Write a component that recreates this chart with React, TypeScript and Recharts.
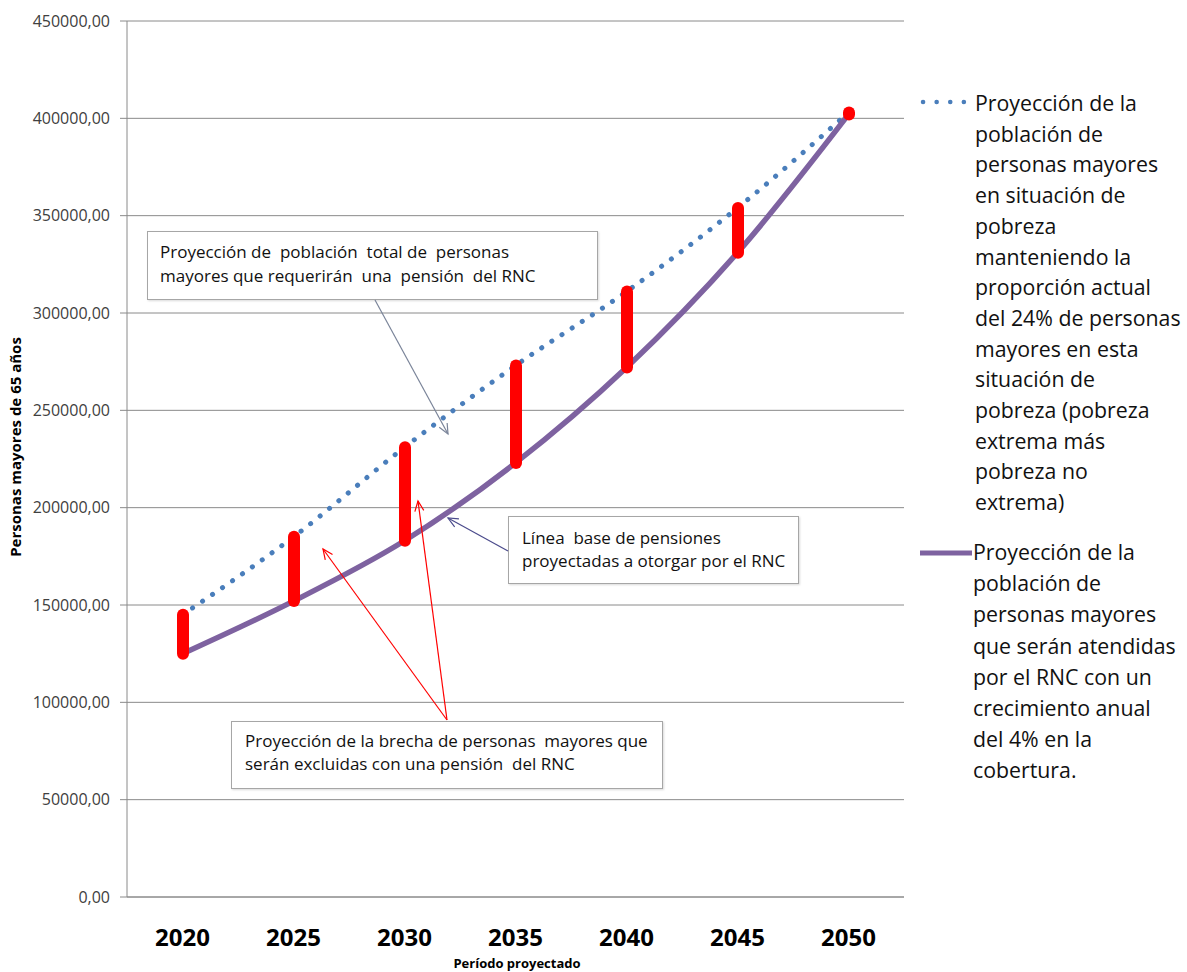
import { Bar, CartesianGrid, ComposedChart, Line, XAxis, YAxis } from 'recharts';

const years = ['2020', '2025', '2030', '2035', '2040', '2045', '2050'];
// proyección de personas mayores en situación de pobreza (24%)
const pobreza = [145000, 185000, 231000, 273000, 311000, 354000, 403000];
// proyección de personas mayores atendidas por el RNC (4% anual)
const atendidas = [125000, 152000, 183000, 223000, 272000, 331000, 402000];
const yTicks = [0, 50000, 100000, 150000, 200000, 250000, 300000, 350000, 400000, 450000];

const legendPobreza = [
  'Proyección de la',
  'población de',
  'personas mayores',
  'en situación de',
  'pobreza',
  'manteniendo la',
  'proporción actual',
  'del 24% de personas',
  'mayores en esta',
  'situación de',
  'pobreza (pobreza',
  'extrema más',
  'pobreza no',
  'extrema)',
];
const legendAtendidas = [
  'Proyección de la',
  'población de',
  'personas mayores',
  'que serán atendidas',
  'por el RNC con un',
  'crecimiento anual',
  'del 4% en la',
  'cobertura.',
];

const data = years.map((year, i) => ({
  year,
  pobreza: pobreza[i],
  atendidas: atendidas[i],
  brecha: [atendidas[i], pobreza[i]],
}));

const FONT = "'Open Sans', sans-serif";

const fmt = (v: number) => v.toFixed(2).replace('.', ',');

function GapShape(props: any) {
  const { x, y, width, height } = props;
  if (x == null || y == null) return null;
  const cx = x + width / 2;
  const top = Math.min(y, y + height);
  const h = Math.abs(height);
  const r = 6;
  return (
    <g>
      <rect x={cx - r} y={top} width={r * 2} height={h} fill="#FF0000" />
      <circle cx={cx} cy={top} r={r} fill="#FF0000" />
      <circle cx={cx} cy={top + h} r={r} fill="#FF0000" />
    </g>
  );
}

function YearTick(props: any) {
  const { x, y, payload } = props;
  return (
    <text x={x} y={y + 49} textAnchor="middle" fontFamily={FONT} fontWeight="bold" fontSize={24} fill="#000">
      {payload.value}
    </text>
  );
}

function Arrow({ x1, y1, x2, y2, color }: { x1: number; y1: number; x2: number; y2: number; color: string }) {
  const ang = Math.atan2(y2 - y1, x2 - x1);
  const L = 11;
  const a = 0.42;
  const p1 = `${x2 - L * Math.cos(ang - a)},${y2 - L * Math.sin(ang - a)}`;
  const p2 = `${x2 - L * Math.cos(ang + a)},${y2 - L * Math.sin(ang + a)}`;
  return (
    <g stroke={color} fill="none" strokeWidth={1.2}>
      <line x1={x1} y1={y1} x2={x2} y2={y2} />
      <polyline points={`${p1} ${x2},${y2} ${p2}`} />
    </g>
  );
}

const boxStyle = (left: number, top: number, width: number, height: number): React.CSSProperties => ({
  position: 'absolute',
  left,
  top,
  width,
  height,
  boxSizing: 'border-box',
  border: '1px solid #A6A6A6',
  boxShadow: '1px 1px 2px rgba(0,0,0,0.15)',
  background: '#fff',
  fontFamily: FONT,
  fontSize: 17,
  lineHeight: '24px',
  color: '#111',
  whiteSpace: 'pre',
});

export default function App() {
  return (
    <div style={{ position: 'absolute', left: 0, top: 0, width: 1187, height: 972, background: '#fff' }}>
      <ComposedChart width={1187} height={972} data={data} margin={{ top: 21, right: 283, bottom: 25, left: 0 }}>
        <CartesianGrid vertical={false} stroke="#8A8A8A" />
        <XAxis
          dataKey="year"
          interval={0}
          tickLine={false}
          tickSize={0}
          tickMargin={0}
          height={50}
          axisLine={{ stroke: '#8A8A8A' }}
          tick={<YearTick />}
        />
        <YAxis
          width={127}
          domain={[0, 450000]}
          ticks={yTicks}
          interval={0}
          tickFormatter={fmt}
          tickSize={7}
          tickMargin={10}
          axisLine={{ stroke: '#8A8A8A' }}
          tickLine={{ stroke: '#8A8A8A' }}
          tick={{ fontFamily: FONT, fontSize: 16, fill: '#404040' }}
        />
        <Line
          dataKey="pobreza"
          type="monotone"
          stroke="#4A7EBB"
          strokeWidth={5}
          strokeDasharray="0.1 12"
          strokeLinecap="round"
          dot={false}
          isAnimationActive={false}
        />
        <Line
          dataKey="atendidas"
          type="monotone"
          stroke="#7E62A0"
          strokeWidth={5.5}
          dot={false}
          isAnimationActive={false}
        />
        <Bar dataKey="brecha" barSize={12} shape={GapShape} zIndex={700} isAnimationActive={false} />
      </ComposedChart>

      {/* annotation boxes */}
      <div style={boxStyle(147, 231, 451, 69)}>
        <div style={{ position: 'absolute', left: 12, top: 8 }}>
          {'Proyección de  población  total de  personas\nmayores que requerirán  una  pensión  del RNC'}
        </div>
      </div>
      <div style={boxStyle(508, 516, 291, 68)}>
        <div style={{ position: 'absolute', left: 13, top: 9, lineHeight: '23px' }}>
          {'Línea  base de pensiones\nproyectadas a otorgar por el RNC'}
        </div>
      </div>
      <div style={boxStyle(231, 721, 432, 68)}>
        <div style={{ position: 'absolute', left: 13, top: 7, lineHeight: '23px' }}>
          {'Proyección de la brecha de personas  mayores que\nserán excluidas con una pensión  del RNC'}
        </div>
      </div>

      {/* arrows, axis titles */}
      <svg width={1187} height={972} style={{ position: 'absolute', left: 0, top: 0, pointerEvents: 'none' }}>
        <Arrow x1={375} y1={300} x2={448} y2={434} color="#7A8499" />
        <Arrow x1={508} y1={551} x2={448} y2={518} color="#4B4B8C" />
        <Arrow x1={447} y1={720} x2={323} y2={549} color="#FF0000" />
        <Arrow x1={447} y1={720} x2={418} y2={501} color="#FF0000" />
        <text
          transform="translate(21,447) rotate(-90)"
          textAnchor="middle"
          fontFamily={FONT}
          fontWeight="bold"
          fontSize={15}
          fill="#000"
        >
          Personas mayores de 65 años
        </text>
        <text x={517} y={968} textAnchor="middle" fontFamily={FONT} fontWeight="bold" fontSize={13} fill="#000">
          Período proyectado
        </text>
        {/* legend markers */}
        <line x1={923} y1={102} x2={965} y2={102} stroke="#4A7EBB" strokeWidth={4.5} strokeDasharray="0.1 13.5" strokeLinecap="round" />
        <line x1={920} y1={553} x2={972} y2={553} stroke="#7E62A0" strokeWidth={5} />
      </svg>

      {/* legend text */}
      <div style={{ position: 'absolute', left: 975, top: 88, fontFamily: FONT, fontSize: 21.3, lineHeight: '30.7px', color: '#111', whiteSpace: 'nowrap' }}>
        {legendPobreza.map((t) => (
          <div key={t + 'a'}>{t}</div>
        ))}
      </div>
      <div style={{ position: 'absolute', left: 973, top: 536, fontFamily: FONT, fontSize: 21.3, lineHeight: '31.2px', color: '#111', whiteSpace: 'nowrap' }}>
        {legendAtendidas.map((t) => (
          <div key={t + 'b'}>{t}</div>
        ))}
      </div>
    </div>
  );
}
